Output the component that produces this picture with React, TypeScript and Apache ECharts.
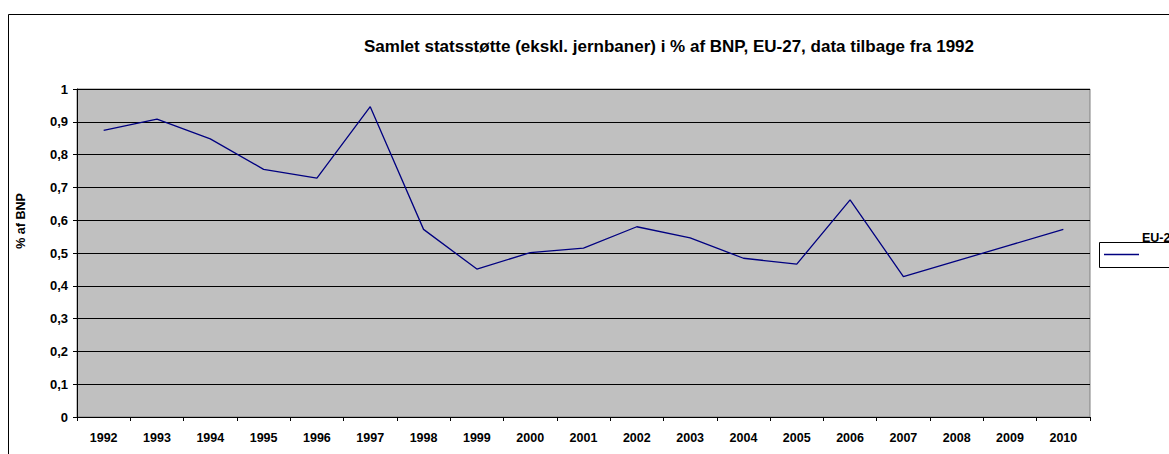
import React, { useEffect, useRef } from "react";
import * as echarts from "echarts";

const years = ["1992","1993","1994","1995","1996","1997","1998","1999","2000","2001","2002","2003","2004","2005","2006","2007","2008","2009","2010"];
const eu27 = [0.874,0.908,0.848,0.755,0.728,0.946,0.572,0.451,0.501,0.515,0.58,0.546,0.484,0.466,0.662,0.428,0.476,0.524,0.572];
const titleText = "Samlet statsstøtte (ekskl. jernbaner) i % af BNP, EU-27, data tilbage fra 1992";
const yAxisTitle = "% af BNP";
const seriesName = "EU-27";

export default function App() {
  const ref = useRef<HTMLDivElement>(null);
  useEffect(() => {
    if (!ref.current) return;
    const chart = echarts.init(ref.current, undefined, { renderer: "svg" });
    const font = "Arial, 'Liberation Sans', sans-serif";
    chart.setOption({
      animation: false,
      backgroundColor: "#ffffff",
      title: {
        text: titleText,
        left: 664,
        top: 33,
        textAlign: "center",
        textStyle: { fontFamily: font, fontSize: 17, fontWeight: "bold", color: "#000" },
      },
      grid: {
        left: 77,
        top: 89,
        right: 79,
        bottom: 37,
        show: true,
        backgroundColor: "#c0c0c0",
        borderColor: "#808080",
        borderWidth: 1,
      },
      xAxis: {
        type: "category",
        data: years,
        boundaryGap: true,
        axisLine: { show: true, lineStyle: { color: "#000", width: 1 } },
        axisTick: { show: true, length: 4, alignWithLabel: false, lineStyle: { color: "#000" } },
        axisLabel: { margin: 14, fontFamily: font, fontSize: 12.5, fontWeight: "bold", color: "#000", interval: 0 },
        splitLine: { show: false },
      },
      yAxis: {
        type: "value",
        min: 0,
        max: 1,
        interval: 0.1,
        axisLine: { show: true, lineStyle: { color: "#000", width: 1 } },
        axisTick: { show: true, length: 4, lineStyle: { color: "#000" } },
        axisLabel: {
          margin: 9,
          fontFamily: font,
          fontSize: 13,
          fontWeight: "bold",
          color: "#000",
          formatter: (v: number) => {
            const r = Math.round(v * 10) / 10;
            if (r === 0) return "0";
            if (r === 1) return "1";
            return r.toFixed(1).replace(".", ",");
          },
        },
        splitLine: { show: true, lineStyle: { color: "#000", width: 1 } },
      },
      series: [
        {
          name: seriesName,
          type: "line",
          data: eu27,
          symbol: "none",
          lineStyle: { color: "#000080", width: 1.3 },
          itemStyle: { color: "#000080" },
        },
      ],
      graphic: [
        {
          type: "rect",
          shape: { x: 8.5, y: 14.5, width: 1300, height: 600 },
          style: { fill: "none", stroke: "#000", lineWidth: 1 },
          silent: true,
          z: 100,
        },
        {
          type: "text",
          x: 21,
          y: 221,
          rotation: Math.PI / 2,
          style: {
            text: yAxisTitle,
            fontFamily: font,
            fontSize: 12.5,
            fontWeight: "bold",
            fill: "#000",
            textAlign: "center",
            textVerticalAlign: "middle",
          },
          z: 100,
        },
        {
          type: "rect",
          shape: { x: 1099.5, y: 242.5, width: 120, height: 25 },
          style: { fill: "#fff", stroke: "#000", lineWidth: 1 },
          z: 100,
        },
        {
          type: "line",
          shape: { x1: 1104, y1: 254.5, x2: 1139, y2: 254.5 },
          style: { stroke: "#000080", lineWidth: 1.3 },
          z: 101,
        },
        {
          type: "text",
          x: 1142,
          y: 238,
          style: {
            text: seriesName,
            fontFamily: font,
            fontSize: 12.5,
            fontWeight: "bold",
            fill: "#000",
            textVerticalAlign: "middle",
            textAlign: "left",
          },
          z: 102,
        },
      ],
    });
    return () => chart.dispose();
  }, []);
  return (
    <div
      ref={ref}
      style={{ position: "absolute", left: 0, top: 0, width: 1169, height: 454 }}
    />
  );
}
